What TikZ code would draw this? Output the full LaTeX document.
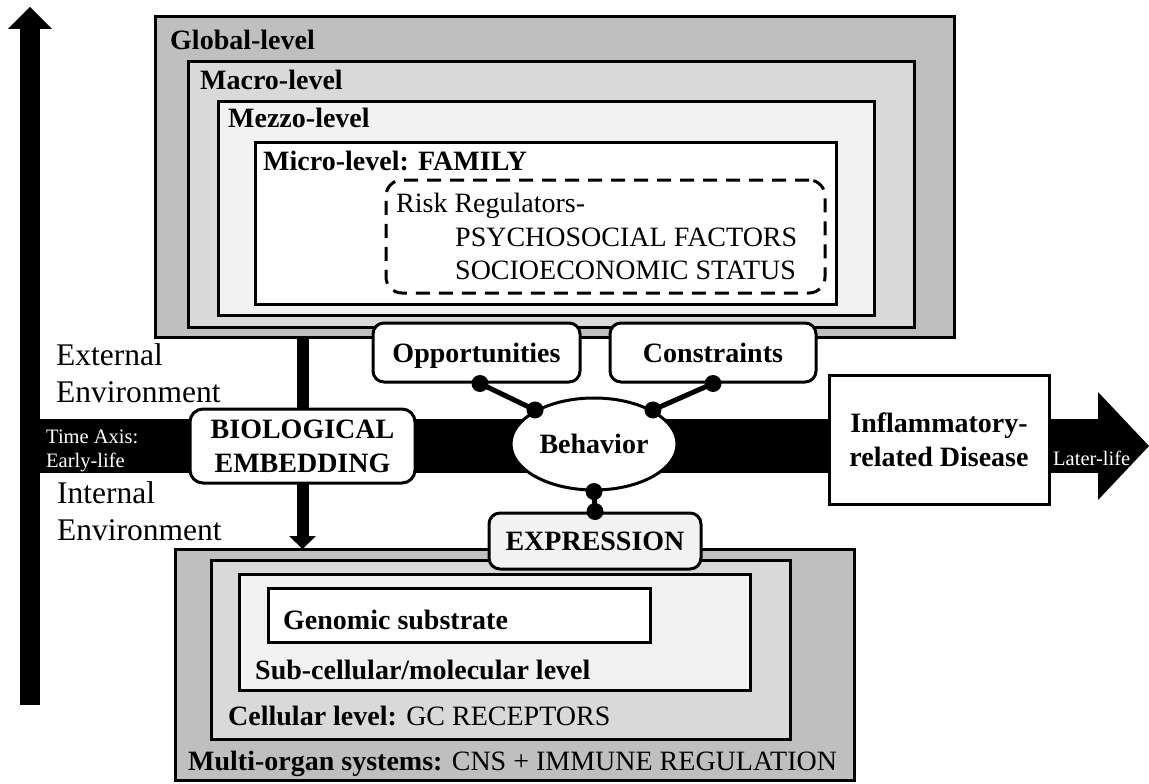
\documentclass[tikz,border=0pt]{standalone}
\usepackage{fontspec}
\setmainfont{Liberation Serif}
\usetikzlibrary{shapes.geometric,calc}
\pgfdeclarelayer{bg}
\pgfsetlayers{bg,main}
\definecolor{gA}{HTML}{BFBFBF}
\definecolor{gB}{HTML}{D9D9D9}
\definecolor{gC}{HTML}{F2F2F2}
\newcommand{\bigfont}{\fontsize{28}{34}\selectfont}
\newcommand{\envfont}{\fontsize{31.5}{37}\selectfont}
\newcommand{\axisfont}{\fontsize{20.5}{24}\selectfont}

\begin{document}
\begin{tikzpicture}[x=1pt,y=-1pt,
  lvl/.style={draw, line width=3pt, inner sep=0pt, outer sep=0pt, anchor=north west},
  lab/.style={anchor=base west, inner sep=0pt, font=\bigfont\bfseries},
  txt/.style={anchor=base west, inner sep=0pt, font=\bigfont},
  envtxt/.style={anchor=base west, inner sep=0pt, font=\envfont},
  axistxt/.style={anchor=base west, inner sep=0pt, text=white, font=\axisfont},
  rbox/.style={draw, line width=3pt, rounded corners=11pt, fill=white, inner sep=0pt,
    font=\bigfont\bfseries, align=center},
  oneline/.style={text height=19pt, text depth=0pt},
  link/.style={line width=5pt},
  knob/.style={radius=8.5pt}
]
\useasboundingbox (0,0) rectangle (1149,784);

% nested social levels
\node[lvl, fill=gA, minimum width=799pt, minimum height=320pt] (global) at (155,17) {};
\node[lvl, fill=gB, minimum width=726pt, minimum height=265pt] (macro) at (188,62) {};
\node[lvl, fill=gC, minimum width=656pt, minimum height=214pt] (mezzo) at (218,101) {};
\node[lvl, fill=white, minimum width=581pt, minimum height=162pt] (micro) at (255,142) {};
\node[lvl, dash pattern=on 14pt off 9pt, rounded corners=16pt,
      minimum width=439pt, minimum height=113pt] (risk) at (386,180) {};

\node[lab] (tglobal) at (170,50) {Global-level};
\node[lab] (tmacro) at (200,89) {Macro-level};
\node[lab] (tmezzo) at (228,128) {Mezzo-level};
\node[lab] (tmicro) at (263,170) {Micro-level: FAMILY};
\node[txt] (trisk) at (396,212) {Risk Regulators-};
\node[txt] (tpsy) at (455,246) {PSYCHOSOCIAL FACTORS};
\node[txt] (tses) at (455,279) {SOCIOECONOMIC STATUS};

% time axis and the vertical axis
\begin{pgfonlayer}{bg}
  \fill (20,705) rectangle (40,29);
  \fill (8,29) -- (30,7) -- (52,29) -- cycle;
  \fill (40,419) rectangle (1099,473);
  \fill (1098,392) -- (1149,446) -- (1098,500) -- cycle;
\end{pgfonlayer}

\node[envtxt] (ext1) at (56,365) {External};
\node[envtxt] (ext2) at (56,402) {Environment};
\node[envtxt] (int1) at (57,503) {Internal};
\node[envtxt] (int2) at (57,540) {Environment};
\node[axistxt] (tax1) at (46,443) {Time Axis:};
\node[axistxt] (tax2) at (46,467) {Early-life};

% biological levels
\node[lvl, fill=gA, minimum width=679pt, minimum height=231pt] (multi) at (175,549) {};
\node[lvl, fill=gB, minimum width=579pt, minimum height=179pt] (cell) at (211,560) {};
\node[lvl, fill=gC, minimum width=511pt, minimum height=116pt] (subcell) at (239,574) {};
\node[lvl, fill=white, minimum width=382pt, minimum height=54pt] (genome) at (268,588) {};

\node[lab] (tgenome) at (283,629) {Genomic substrate};
\node[lab] (tsub) at (255,679) {Sub-cellular/molecular level};
\node[txt] (tcell) at (228,725) {\textbf{Cellular level:} GC RECEPTORS};
\node[txt] (tmulti) at (188,770) {\textbf{Multi-organ systems:} CNS + IMMUNE REGULATION};

% central nodes
\node[rbox, oneline, minimum width=207pt, minimum height=59pt] (opp) at (476.5,352.5) {Opportunities};
\node[rbox, oneline, minimum width=206pt, minimum height=59pt] (con) at (713,352.5) {Constraints};
\node[rbox, rounded corners=13pt, minimum width=225pt, minimum height=74pt] (bio) at (302.5,446) {BIOLOGICAL\\EMBEDDING};
\node[draw, ellipse, line width=3pt, fill=white, inner sep=0pt, minimum width=166pt,
      minimum height=92pt, font=\bigfont\bfseries] (behav) at (594,444) {Behavior};
\node[draw, line width=3pt, fill=white, inner sep=0pt, minimum width=220pt, minimum height=129pt,
      align=center, font=\bigfont\bfseries] (inflam) at (939,439.5) {Inflammatory-\\related Disease};
\node[rbox, oneline, fill=gC, minimum width=212pt, minimum height=56pt] (expr) at (595,541) {EXPRESSION};
\node[axistxt] (tlater) at (1053,465) {Later-life};

% embedding arrow from the social levels down to the body
\coordinate (dtop) at (global.south -| bio.north);
\coordinate (dtip) at (multi.north -| bio.north);
\begin{pgfonlayer}{bg}
  \draw[line width=12pt] (dtop) -- ($(dtip)+(0,-13)$);
  \fill ($(dtip)+(-13.5,-13)$) -- (dtip) -- ($(dtip)+(13.5,-13)$) -- cycle;
\end{pgfonlayer}

% knobbed links around Behavior
\coordinate (oppend) at ([xshift=3.5pt]opp.south);
\draw[link] (oppend) -- (behav.150);
\fill[knob] (oppend) circle;
\fill[knob] (behav.150) circle;
\draw[link] (con.south) -- (behav.30);
\fill[knob] (con.south) circle;
\fill[knob] (behav.30) circle;
\draw[link] (behav.south) -- (expr.north);
\fill[knob] (behav.south) circle;
\fill[knob] (expr.north) circle;
\end{tikzpicture}
\end{document}
